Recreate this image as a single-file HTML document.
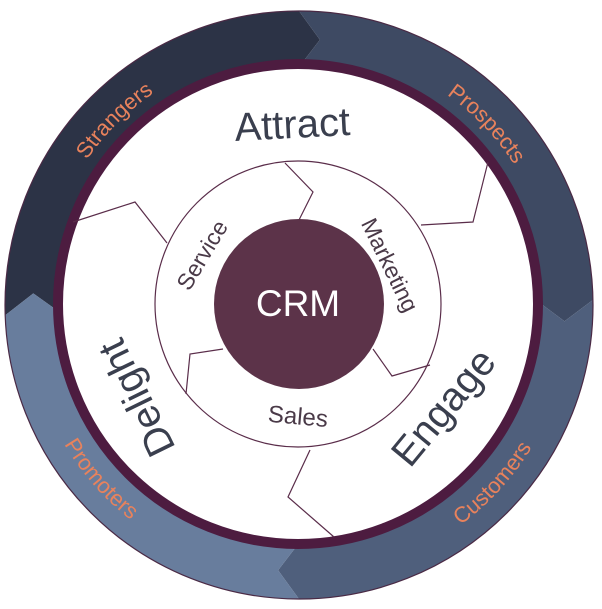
<!DOCTYPE html>
<html><head><meta charset="utf-8">
<style>
html,body{margin:0;padding:0;background:#fff;}
svg{display:block;}
text{font-family:"Liberation Sans",sans-serif;}
</style></head>
<body>
<svg id="s" width="602" height="609" viewBox="0 0 602 609" xmlns="http://www.w3.org/2000/svg">
<defs>
<path id="pStr" d="M45.9,260.4 A257,257 0 0 1 254.4,51.9"/>
<path id="pPro" d="M348.0,52.7 A257,257 0 0 1 552.8,264.8"/>
<path id="pCus" d="M357.6,571.6 A273,273 0 0 0 569.6,341.1"/>
<path id="pPrm" d="M27.6,335.0 A273,273 0 0 0 234.3,570.2"/>
</defs>
<g id="band"></g>
<circle cx="299" cy="305" r="294" fill="none" stroke="#4a2a45" stroke-width="1.2"/>
<circle cx="298" cy="304" r="240" fill="#fff" stroke="#4d1c40" stroke-width="10"/>

<g fill="none" stroke="#5a2d4a" stroke-width="1.2">
<circle cx="298" cy="304" r="143"/>
<polyline points="285,163 313,192 299,220"/>
<polyline points="488,162 473,222 421,225"/>
<polyline points="73,222 135,202 167,243"/>
<polyline points="223,349 190,354 186,394"/>
<polyline points="373,349 392,376 430,365"/>
<polyline points="310,450 288,497 334,537"/>
</g>
<circle cx="299" cy="304" r="85" fill="#5c3349"/>
<text x="298" y="316" font-size="37" fill="#fff" text-anchor="middle">CRM</text>

<g fill="#e8825c" font-size="22">
<text><textPath href="#pStr" startOffset="50%" text-anchor="middle">Strangers</textPath></text>
<text><textPath href="#pPro" startOffset="50%" text-anchor="middle">Prospects</textPath></text>
<text><textPath href="#pCus" startOffset="50%" text-anchor="middle">Customers</textPath></text>
<text><textPath href="#pPrm" startOffset="50%" text-anchor="middle">Promoters</textPath></text>
</g>

<g fill="#3a3f4e" font-size="40">
<text transform="translate(293,138) rotate(-3)" text-anchor="middle">Attract</text>
<text transform="translate(176,448) rotate(-116)">Delight</text>
<text transform="translate(410,469) rotate(-50.5)">Engage</text>
</g>
<g fill="#4a3a48" font-size="23">
<text transform="translate(202,255) rotate(-59)" text-anchor="middle" dy=".35em">Service</text>
<text transform="translate(390,265) rotate(64)" text-anchor="middle" dy=".35em">Marketing</text>
<text transform="translate(298,416) rotate(5)" text-anchor="middle" dy=".35em" font-size="24">Sales</text>
</g>
</svg>
<script>
(function(){
var cx=299,cy=305,ro=294,ri=238,rm=266,d=4.5;
function P(r,a){a=a*Math.PI/180;return (cx+r*Math.cos(a)).toFixed(1)+","+(cy+r*Math.sin(a)).toFixed(1);}
var segs=[[178,270,"#2c3346"],[270,359,"#3e4a63"],[-1,90,"#4f5f7c"],[90,178,"#687d9d"]];
var g=document.getElementById("band"),ns="http://www.w3.org/2000/svg";
segs.forEach(function(s){
var a1=s[0],a2=s[1];
var dd="M"+P(ro,a1)+" A"+ro+","+ro+" 0 0 1 "+P(ro,a2)+" L"+P(rm,a2+d)+" L"+P(ri,a2)+
" A"+ri+","+ri+" 0 0 0 "+P(ri,a1)+" L"+P(rm,a1+d)+" Z";
var p=document.createElementNS(ns,"path");p.setAttribute("d",dd);p.setAttribute("fill",s[2]);g.appendChild(p);
});
})();
</script>
</body></html>
